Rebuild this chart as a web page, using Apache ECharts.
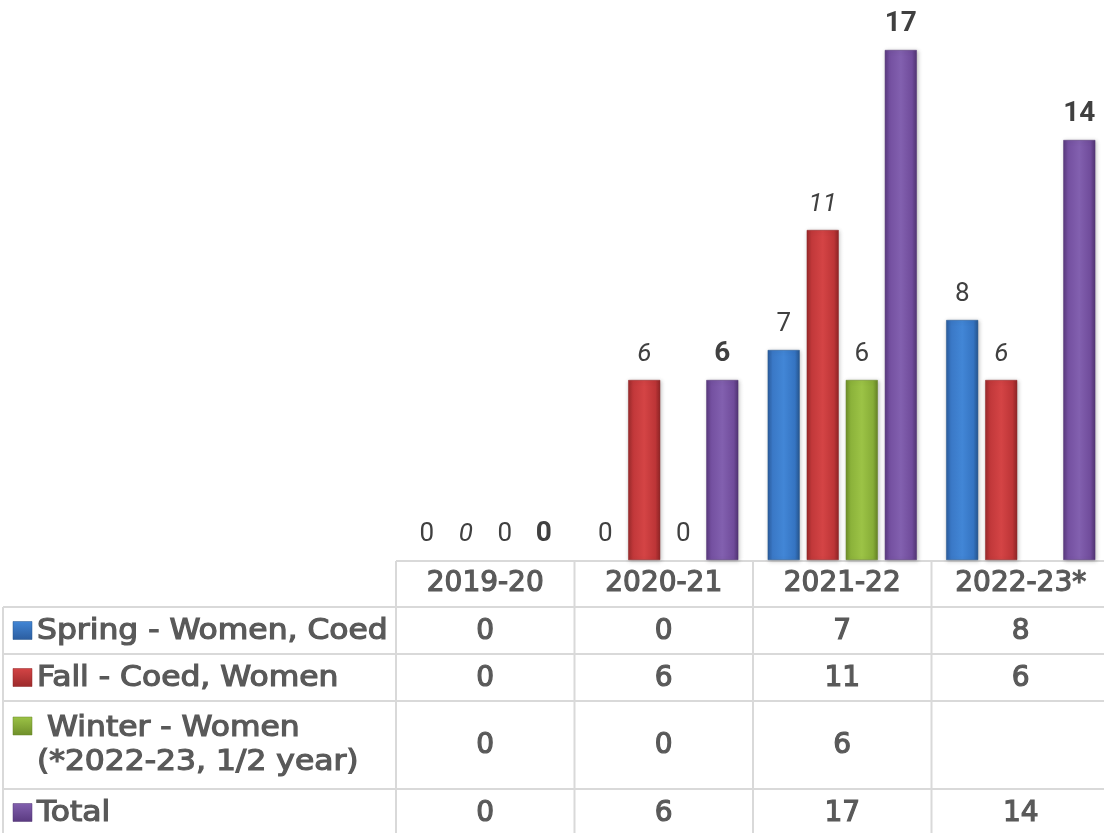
<!DOCTYPE html>
<html><head><meta charset="utf-8">
<script src="https://cdn.jsdelivr.net/npm/echarts@6/dist/echarts.min.js"></script>
<style>html,body{margin:0;padding:0;background:#fff;overflow:hidden}#c{width:1110px;height:833px}</style>
</head><body><div id="c"></div>
<script>
// ---- data ----
const categories = ['2019-20', '2020-21', '2021-22', '2022-23*'];
const seriesNames = ['Spring - Women, Coed', 'Fall - Coed, Women', ' Winter - Women\n(*2022-23, 1/2 year)', 'Total'];
const spring = [0, 0, 7, 8];
const fall = [0, 6, 11, 6];
const winter = [0, 0, 6, null];
const total = [0, 6, 17, 14];

// ---- styles ----
const palettes = [
  ['#2b5d9f', '#3a78c6', '#4286d6', '#3574c2', '#27568f'],
  ['#9c2a2b', '#c1383a', '#d44445', '#bd3537', '#8f2526'],
  ['#6f8f2a', '#8bb23a', '#9cc346', '#87ad37', '#668426'],
  ['#5a3a80', '#7450a0', '#8260af', '#704c9b', '#523574']
];
function grad(p) {
  return { type: 'linear', x: 0, y: 0, x2: 1, y2: 0, colorStops: [
    { offset: 0, color: p[0] }, { offset: 0.15, color: p[1] }, { offset: 0.5, color: p[2] },
    { offset: 0.85, color: p[3] }, { offset: 1, color: p[4] }] };
}
const labelStyles = [
  { fontWeight: 'normal', fontStyle: 'normal', fontSize: 26 },
  { fontWeight: 'normal', fontStyle: 'italic', fontSize: 26 },
  { fontWeight: 'normal', fontStyle: 'normal', fontSize: 26 },
  { fontWeight: 'bold', fontStyle: 'normal', fontSize: 28 }
];
const allData = [spring, fall, winter, total];
const hiddenBar = { color: 'rgba(0,0,0,0)', borderWidth: 0, shadowBlur: 0, shadowOffsetX: 0, shadowOffsetY: 0, shadowColor: 'rgba(0,0,0,0)' };

const chart = echarts.init(document.getElementById('c'), null, { renderer: 'canvas' });
const option = {
  animation: false,
  backgroundColor: '#fff',
  grid: { left: 396, right: 0, top: 20, bottom: 273, containLabel: false },
  xAxis: {
    type: 'category', data: categories,
    axisLine: { show: false }, axisTick: { show: false },
    axisLabel: { interval: 0, margin: 10, fontSize: 28, lineHeight: 28, color: '#595959',
      fontFamily: '"DejaVu Sans"', fontWeight: 'normal', textBorderColor: '#595959', textBorderWidth: 1.2 }
  },
  yAxis: { type: 'value', min: 0, max: 18, show: false, splitLine: { show: false } },
  series: allData.map((d, i) => ({
    name: seriesNames[i], type: 'bar',
    data: d.map(v => (v === 0 ? { value: 0, itemStyle: hiddenBar } : v)),
    barWidth: 32, barGap: '22%',
    itemStyle: { color: grad(palettes[i]), borderColor: palettes[i][4], borderWidth: 0.5,
      shadowColor: 'rgba(0,0,0,0.25)', shadowBlur: 4, shadowOffsetX: 1, shadowOffsetY: 1 },
    label: Object.assign({ show: true, position: 'top', distance: 11, lineHeight: 30,
      fontFamily: 'Roboto', color: '#404040' }, labelStyles[i])
  }))
};
chart.setOption(option);

// ---- data table drawn under the axis ----
const xs = categories.map((c, i) => chart.convertToPixel({ xAxisIndex: 0 }, i));
const band = xs[1] - xs[0];
const colEdges = xs.map(x => x - band / 2).concat([xs[xs.length - 1] + band / 2]);
const baseY = chart.convertToPixel({ yAxisIndex: 0 }, 0);
const rowEdges = [baseY + 1, baseY + 47, baseY + 94, baseY + 141, baseY + 229, baseY + 276];
const legendLeft = 3;
const lineColor = '#d9d9d9';
const textColor = '#595959';
const g = [];
function hline(y, x1, x2) { g.push({ type: 'line', shape: { x1: x1, y1: y, x2: x2, y2: y }, style: { stroke: lineColor, lineWidth: 2 }, silent: true }); }
function vline(x, y1, y2) { g.push({ type: 'line', shape: { x1: x, y1: y1, x2: x, y2: y2 }, style: { stroke: lineColor, lineWidth: 2 }, silent: true }); }
hline(rowEdges[0], colEdges[0], colEdges[colEdges.length - 1]);
for (let r = 1; r < rowEdges.length - 1; r++) hline(rowEdges[r], legendLeft, colEdges[colEdges.length - 1]);
vline(legendLeft, rowEdges[1], rowEdges[rowEdges.length - 1]);
colEdges.forEach(x => vline(x, rowEdges[0], rowEdges[rowEdges.length - 1]));

allData.forEach((d, i) => {
  const top = rowEdges[i + 1], bot = rowEdges[i + 2];
  const cy = (top + bot) / 2;
  const multi = seriesNames[i].indexOf('\n') >= 0;
  const keyCy = multi ? cy - 19 : cy;
  const p = palettes[i];
  g.push({ type: 'rect', shape: { x: 13, y: keyCy - 9, width: 19, height: 18 },
    style: { fill: { type: 'linear', x: 0, y: 0, x2: 0, y2: 1, colorStops: [
      { offset: 0, color: p[2] }, { offset: 1, color: p[0] }] }, stroke: p[4], lineWidth: 0.5 }, silent: true });
  g.push({ type: 'text', x: 37, y: cy + 1, scaleX: 1.12, scaleY: 1,
    style: { text: seriesNames[i], fill: textColor, font: '28px "DejaVu Sans"', lineHeight: 34,
      stroke: textColor, lineWidth: 1.2, align: 'left', verticalAlign: 'middle' }, silent: true });
  d.forEach((v, j) => {
    g.push({ type: 'text', x: xs[j], y: cy + 1,
      style: { text: v == null ? '' : String(v), fill: textColor, font: '28px "DejaVu Sans"',
        stroke: textColor, lineWidth: 1.2, align: 'center', verticalAlign: 'middle' }, silent: true });
  });
});
chart.setOption({ graphic: { elements: g } });
</script>
</body></html>
